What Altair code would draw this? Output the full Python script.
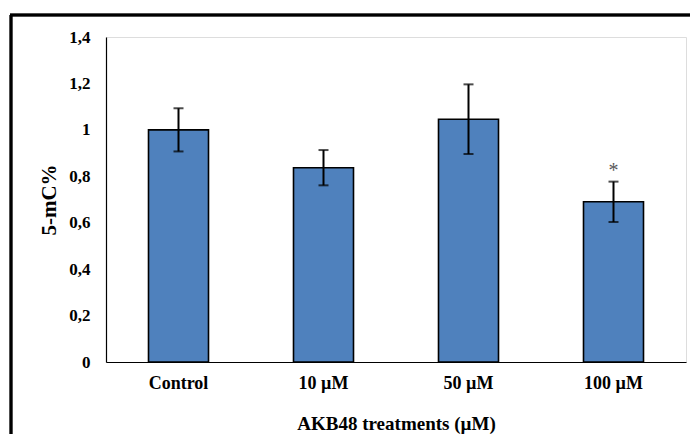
import altair as alt
import pandas as pd

categories = ["Control", "10 µM", "50 µM", "100 µM"]
values = [1.0, 0.837, 1.046, 0.69]
errors = [0.093, 0.076, 0.15, 0.087]
marks = ["", "", "", "*"]

df = pd.DataFrame({
    "cat": categories,
    "val": values,
    "err": errors,
    "mark": marks,
})
df["lo"] = df["val"] - df["err"]
df["hi"] = df["val"] + df["err"]

FONT = "Liberation Serif"

x = alt.X("cat:N", sort=categories,
          scale=alt.Scale(paddingInner=0, paddingOuter=0),
          axis=alt.Axis(title="AKB48 treatments (µM)", labelAngle=0, ticks=False,
                        labelPadding=12, titlePadding=22, domainColor="black",
                        domainWidth=1.2, labelFont=FONT, labelFontSize=18,
                        labelFontWeight="bold", labelColor="black",
                        titleFont=FONT, titleFontSize=19, titleFontWeight="bold",
                        titleColor="black"))

y_scale = alt.Scale(domain=[0, 1.4], nice=False)

base = alt.Chart(df)

bars = base.mark_bar(size=60, color="#4F81BD", stroke="black", strokeWidth=1.6).encode(
    x=x,
    y=alt.Y("val:Q", scale=y_scale,
            axis=alt.Axis(title="5-mC%", values=[0, 0.2, 0.4, 0.6, 0.8, 1.0, 1.2, 1.4],
                          labelExpr="replace(format(datum.value, '.1~f'), '.', ',')",
                          grid=False, ticks=False, labelPadding=16, titlePadding=9,
                          domainColor="black", domainWidth=1.2,
                          labelFont=FONT, labelFontSize=17, labelFontWeight="bold",
                          labelColor="black", titleFont=FONT, titleFontSize=21,
                          titleFontWeight="bold", titleColor="black")),
)

rules = base.mark_rule(color="black", strokeWidth=2).encode(
    x=alt.X("cat:N", sort=categories),
    y=alt.Y("lo:Q", scale=y_scale),
    y2="hi:Q",
)

cap_lo = base.mark_tick(color="black", thickness=2, size=10).encode(
    x=alt.X("cat:N", sort=categories),
    y=alt.Y("lo:Q", scale=y_scale),
)
cap_hi = base.mark_tick(color="black", thickness=2, size=10).encode(
    x=alt.X("cat:N", sort=categories),
    y=alt.Y("hi:Q", scale=y_scale),
)

star = base.mark_text(font=FONT, fontSize=20, color="#595959", baseline="middle", dy=-11).encode(
    x=alt.X("cat:N", sort=categories),
    y=alt.Y("hi:Q", scale=y_scale),
    text="mark:N",
)

frame_left = alt.Chart(df).mark_rule(color="black", strokeWidth=2.5).encode(
    x=alt.value(-95), y=alt.value(-22), y2=alt.value(420)
)
frame_top = alt.Chart(df).mark_rule(color="black", strokeWidth=2.5).encode(
    x=alt.value(-96), x2=alt.value(600), y=alt.value(-22)
)

chart = alt.layer(bars, rules, cap_lo, cap_hi, star, frame_left, frame_top).properties(
    width=580, height=325,
    autosize=alt.AutoSizeParams(type="none"),
    padding={"left": 98, "top": 29, "right": 4, "bottom": 72},
).configure_view(stroke=None).configure(background="white")

chart.save("out.html", embed_options={"renderer": "svg", "actions": False})
